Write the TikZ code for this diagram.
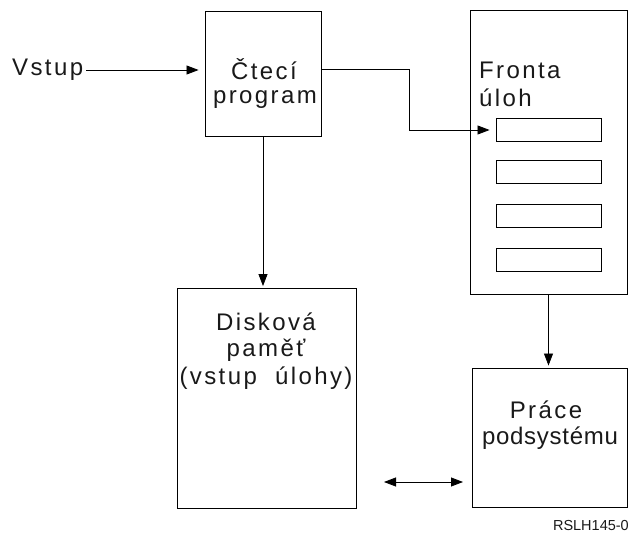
\documentclass[tikz,border=0pt]{standalone}
\usepackage{fontspec}
\setmainfont{Liberation Sans}[LetterSpace=10]
\usetikzlibrary{arrows.meta}
\begin{document}
\begin{tikzpicture}[x=1pt,y=-1pt,
  box/.style={draw, line width=0.9pt, minimum width=#1, inner sep=0pt},
  lbl/.style={font=\fontsize{24}{28}\selectfont, inner sep=0pt, text=black!90},
  conn/.style={line width=0.8pt, -{Triangle[length=12pt,width=9pt]}},
  slot/.style={draw, line width=0.9pt, inner sep=0pt, minimum width=105pt, minimum height=23pt}]
\useasboundingbox (0,0) rectangle (630,533);
% boxes
\node[box=116pt, minimum height=125pt] (ctec) at (263,73.5) {};
\node[box=157pt, minimum height=284pt] (fronta) at (548.5,152) {};
\node[box=179pt, minimum height=220pt] (disk) at (266.5,398) {};
\node[box=155pt, minimum height=139pt] (prace) at (549.5,437.5) {};
\node[slot] (s1) at (548.5,130) {};
\node[slot] (s2) at (548.5,171.5) {};
\node[slot] (s3) at (548.5,215.5) {};
\node[slot] (s4) at (548.5,259.5) {};
% texts
\node[lbl, anchor=west] (vstup) at (12,70) {Vstup};
\node[lbl] (tctec) at (264,69) {Čtecí};
\node[lbl] (tprog) at (265,100) {program};
\node[lbl, anchor=west] (tfr) at (479,70) {Fronta};
\node[lbl, anchor=west] (tul) at (479,98) {úloh};
\node[lbl] (td1) at (266,322) {Disková};
\node[lbl] (td2) at (266,350) {paměť};
\node[lbl] (td3) at (266,378) {(vstup~~úlohy)};
\node[lbl] (tp1) at (546,410) {Práce};
\node[lbl, font=\fontsize{24}{28}\selectfont\addfontfeature{LetterSpace=3}] (tp2) at (550,438) {podsystému};
\node[font=\fontsize{14.5}{17}\selectfont\addfontfeature{LetterSpace=0}, anchor=east, inner sep=0pt, text=black!90] (code) at (629,526) {RSLH145-0};
% connectors
\coordinate (c1) at (409,69);
\coordinate (c2) at (409,130);
\coordinate (ctout) at (321,69);
\coordinate (da) at (384,482);
\coordinate (db) at (463,482);
\draw[conn, shorten >=6pt] ([xshift=3pt]vstup.east) -- (ctec.west |- vstup.east);
\draw[conn, shorten >=6pt] (ctout) -- (c1) -- (c2) -- (s1.west);
\draw[conn, shorten >=1.5pt] (ctec.south) -- (ctec.south |- disk.north);
\draw[conn, shorten >=2pt] (fronta.south) -- (fronta.south |- prace.north);
\draw[line width=0.8pt, {Triangle[length=12pt,width=9pt]}-{Triangle[length=12pt,width=9pt]}] (da) -- (db);
\end{tikzpicture}
\end{document}
